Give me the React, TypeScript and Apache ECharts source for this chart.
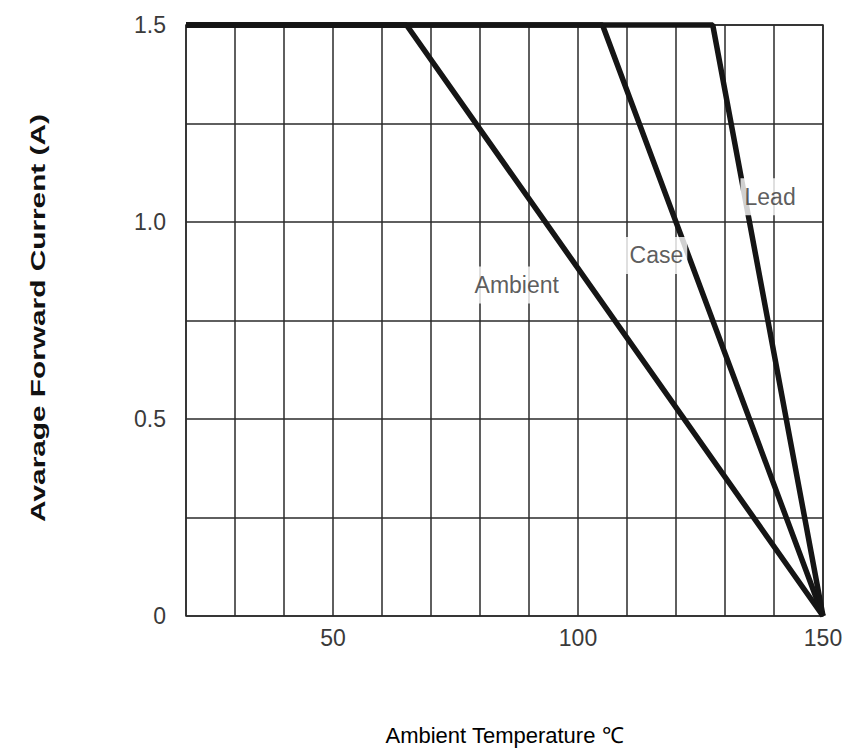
import React, { useEffect, useRef } from "react";
import * as echarts from "echarts";

// Derating curves: [temperature, current]
const ambientCurve: [number, number][] = [[20, 1.5], [65, 1.5], [150, 0]];
const caseCurve: [number, number][] = [[20, 1.5], [105, 1.5], [150, 0]];
const leadCurve: [number, number][] = [[20, 1.5], [127.5, 1.5], [150, 0]];

const curveLabels = ["Ambient", "Case", "Lead"];
const curveLabelX = [87.5, 116, 139.2];
const curveLabelY = [0.84, 0.915, 1.064];

const xTickLabels = [50, 100, 150];
const yTickLabels = [0, 0.5, 1.0, 1.5];

const FONT = "'Liberation Sans', Arial, Helvetica, sans-serif";

export default function App() {
  const ref = useRef<HTMLDivElement>(null);
  useEffect(() => {
    if (!ref.current) return;
    const chart = echarts.init(ref.current, undefined, { renderer: "svg" });
    const lineStyle = { color: "#151515", width: 5.5 };
    const mkLine = (name: string, data: [number, number][]) => ({
      name,
      type: "line",
      data,
      symbol: "none",
      clip: false,
      lineStyle,
      z: 3,
    });
    chart.setOption({
      animation: false,
      backgroundColor: "#ffffff",
      grid: {
        left: 186,
        right: 26,
        top: 25,
        bottom: 134,
        show: true,
        borderColor: "#2a2a2a",
        borderWidth: 1.5,
      },
      xAxis: {
        type: "value",
        min: 20,
        max: 150,
        interval: 10,
        name: "Ambient Temperature ℃",
        nameLocation: "middle",
        nameGap: 108,
        nameTextStyle: { fontFamily: FONT, fontSize: 22, color: "#000" },
        axisLine: { show: false },
        axisTick: { show: false },
        axisLabel: {
          fontFamily: FONT,
          fontSize: 23,
          color: "#3a3a3a",
          margin: 10,
          showMaxLabel: true,
          formatter: (v: number) => (xTickLabels.includes(v) ? String(v) : ""),
        },
        splitLine: { show: true, lineStyle: { color: "#2a2a2a", width: 1.5 } },
      },
      yAxis: {
        type: "value",
        min: 0,
        max: 1.5,
        interval: 0.25,
        axisLine: { show: false },
        axisTick: { show: false },
        axisLabel: {
          fontFamily: FONT,
          fontSize: 23,
          color: "#3a3a3a",
          margin: 20,
          formatter: (v: number) => {
            const hit = yTickLabels.find((t) => Math.abs(t - v) < 1e-9);
            if (hit === undefined) return "";
            return hit === 0 ? "0" : hit.toFixed(1);
          },
        },
        splitLine: { show: true, lineStyle: { color: "#2a2a2a", width: 1.5 } },
      },
      graphic: [
        {
          type: "text",
          x: 38,
          y: 318,
          rotation: Math.PI / 2,
          scaleX: 1.42,
          style: {
            text: "Avarage Forward Current (A)",
            fontFamily: FONT,
            fontSize: 21,
            fontWeight: "bold",
            fill: "#111",
            align: "center",
            verticalAlign: "middle",
          },
        },
      ],
      series: [
        mkLine("Ambient", ambientCurve),
        mkLine("Case", caseCurve),
        mkLine("Lead", leadCurve),
        {
          name: "labels",
          type: "scatter",
          symbolSize: 1,
          itemStyle: { color: "rgba(0,0,0,0)" },
          z: 5,
          data: curveLabels.map((n, i) => ({ name: n, value: [curveLabelX[i], curveLabelY[i]] })),
          label: {
            show: true,
            position: "inside",
            formatter: (p: any) => p.name,
            fontFamily: FONT,
            fontSize: 23,
            color: "#333",
            backgroundColor: "#ffffff",
            padding: [7, 4],
          },
        },
      ],
    });
    return () => chart.dispose();
  }, []);
  return (
    <div
      ref={ref}
      style={{ position: "absolute", left: 0, top: 0, width: 849, height: 751 }}
    />
  );
}
